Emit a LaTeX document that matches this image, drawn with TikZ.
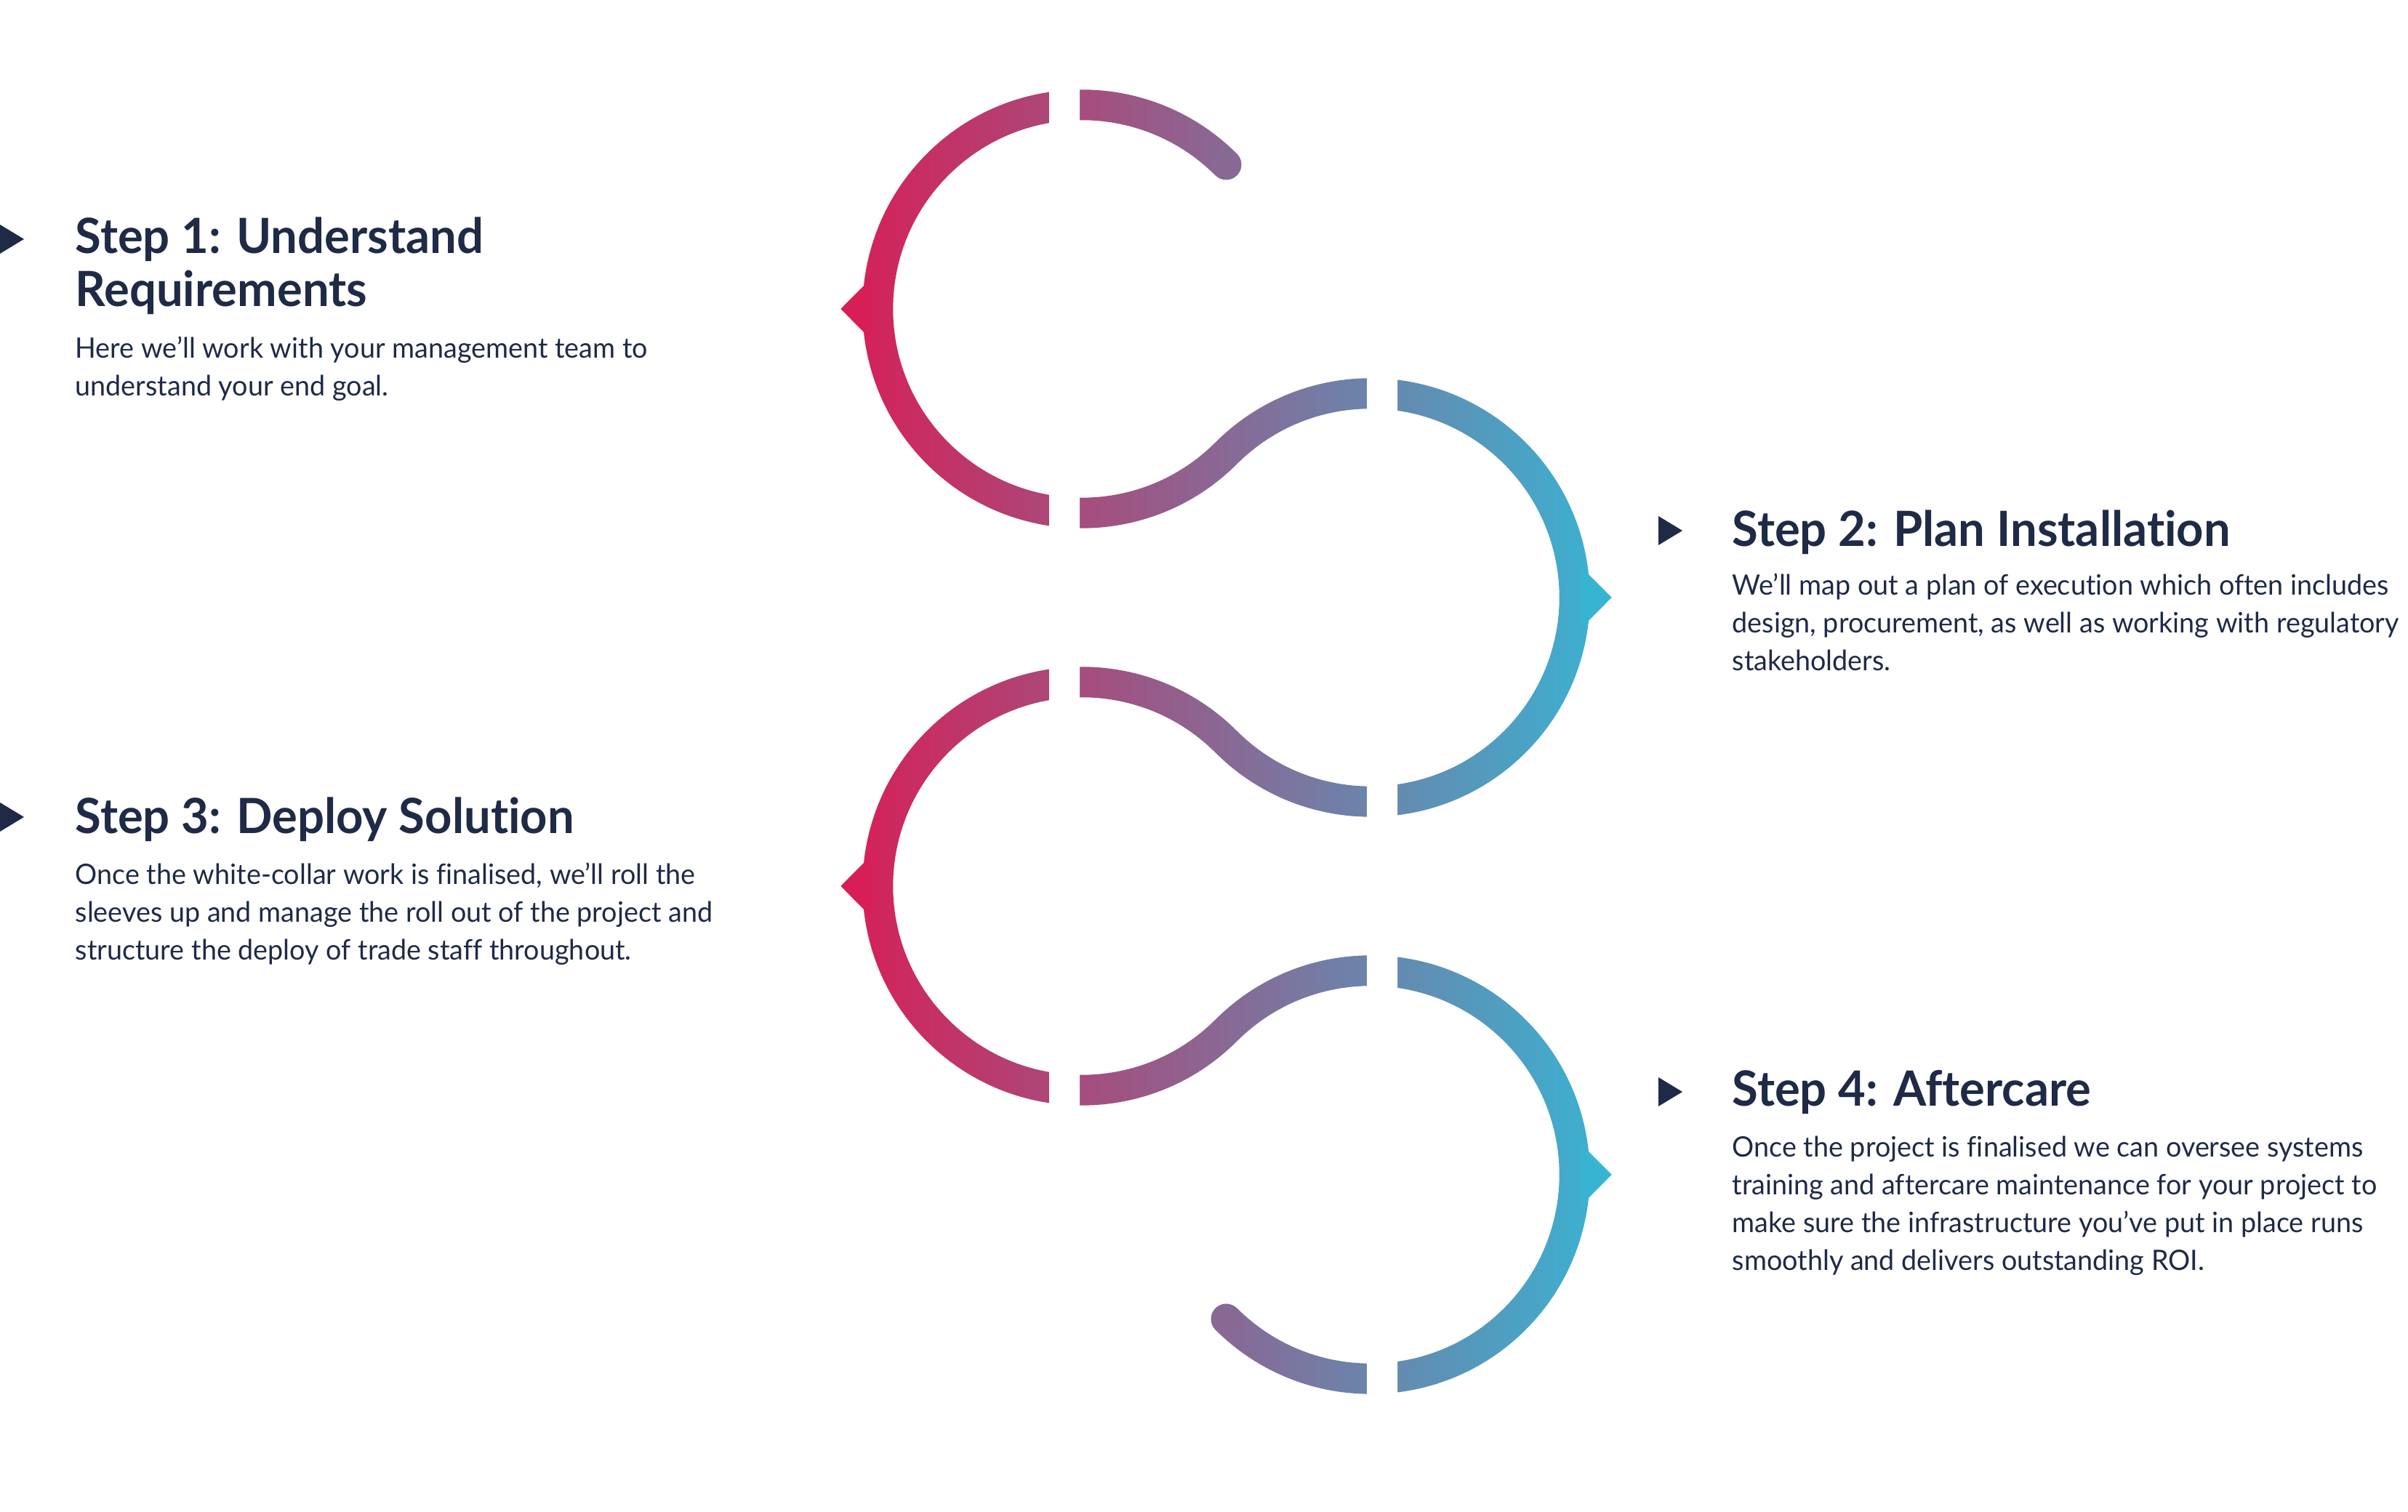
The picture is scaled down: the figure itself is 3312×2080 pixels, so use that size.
\documentclass[tikz,border=0pt]{standalone}
\usepackage{fontspec}
\setmainfont{Lato}[FakeStretch=0.975,Ligatures=NoCommon]
\definecolor{navy}{HTML}{1F2A47}
\definecolor{crimson}{HTML}{D81E56}
\definecolor{sky}{HTML}{38B4D3}

\begin{document}
\begin{tikzpicture}[x=0.01cm,y=0.01cm,
  head/.style={anchor=base west,inner sep=0,align=left,text=navy,font=\bfseries\fontsize{19}{21}\selectfont},
  body/.style={anchor=base west,inner sep=0,align=left,text=navy,font=\fontsize{11}{14.8}\selectfont}]
\useasboundingbox (0,0) rectangle (3312,2080);
\begin{scope}
\clip \foreach \cx/\cy/\a in {1488/1655/45,1885/1258/-135,1488/861/45,1885/464/-135}
  { (\cx,\cy) ++(\a:301.7) arc[start angle=\a,delta angle=270,radius=301.7]
    -- ++(\a+90:42) arc[start angle=\a+270,delta angle=-270,radius=259.7] -- cycle };
\shade[left color=crimson,right color=sky] (1155,150) rectangle (2219,1990);
\end{scope}
\fill[sky!50!crimson] (1686.5,1853.5) circle[radius=21] (1686.5,265.5) circle[radius=21];
\foreach \y in {1655,861}
  \fill[crimson] (1156.3,\y) -- (1198,\y-42) -- (1198,\y+42) -- cycle;
\foreach \y in {1258,464}
  \fill[sky] (2216.7,\y) -- (2175,\y+42) -- (2175,\y-42) -- cycle;
\foreach \y in {1655,861}
  \fill[white] (1443,\y+250) rectangle (1485,\y+312) (1443,\y-312) rectangle (1485,\y-250);
\foreach \y in {1258,464}
  \fill[white] (1880,\y+250) rectangle (1922,\y+312) (1880,\y-312) rectangle (1922,\y-250);
\foreach \x/\y in {0/1751,2281/1350,0/956,2281/578}
  \fill[navy] (\x,\y+20) -- (\x+33,\y) -- (\x,\y-20) -- cycle;
\node[head] (s1) at (103,1658) {Step 1: Understand\\Requirements};
\node[body] (d1) at (103,1535) {Here we’ll work with your management team to\\understand your end goal.};
\node[head] (s2) at (2382,1328) {Step 2: Plan Installation};
\node[body] (d2) at (2382,1157) {We’ll map out a plan of execution which often includes\\design, procurement, as well as working with regulatory\\stakeholders.};
\node[head] (s3) at (103,933) {Step 3: Deploy Solution};
\node[body] (d3) at (103,759) {Once the white-collar work is finalised, we’ll roll the\\sleeves up and manage the roll out of the project and\\structure the deploy of trade staff throughout.};
\node[head] (s4) at (2382,558) {Step 4: Aftercare};
\node[body] (d4) at (2382,332) {Once the project is finalised we can oversee systems\\training and aftercare maintenance for your project to\\make sure the infrastructure you’ve put in place runs\\smoothly and delivers outstanding ROI.};
\end{tikzpicture}
\end{document}
